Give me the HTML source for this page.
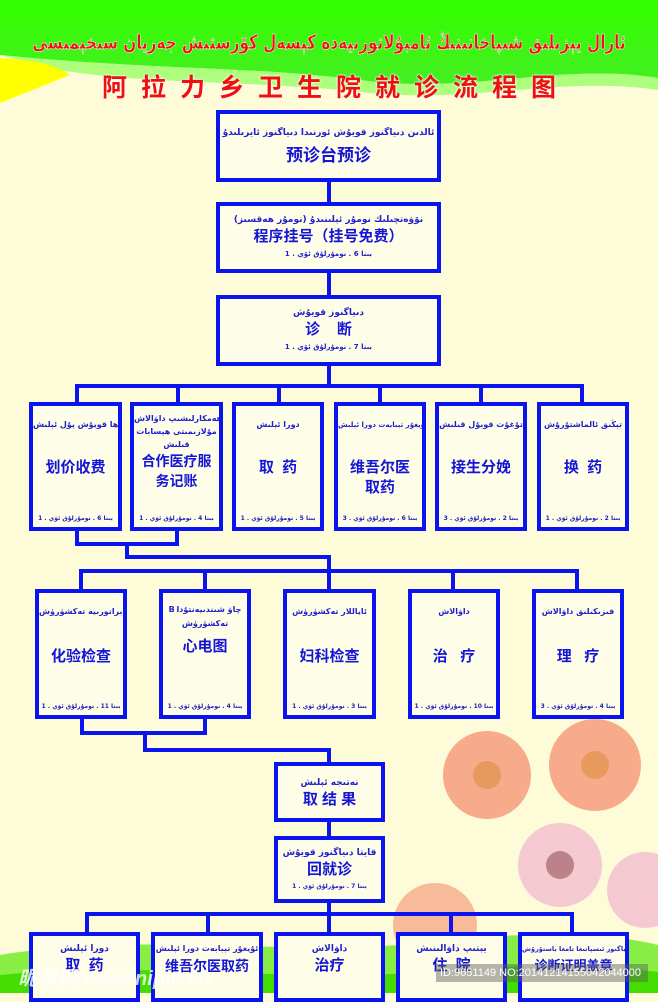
<!DOCTYPE html>
<html><head><meta charset="utf-8"><style>
*{margin:0;padding:0;box-sizing:border-box}
body{width:658px;height:993px;position:relative;overflow:hidden;background:#fdfbd8;font-family:"Liberation Sans","Noto Sans CJK SC",sans-serif}
.b{position:absolute;border:4px solid #0a14f0;background:#fefee8;color:#1a1ae0;text-align:center;overflow:hidden}
.l{position:absolute;background:#0a14f0}
.u{font-family:"DejaVu Sans",sans-serif;font-weight:bold;font-size:9px;line-height:14px;color:#2020d0;white-space:nowrap;letter-spacing:-0.5px}
.c{font-weight:bold;font-size:15px;line-height:20px;color:#1515d8}
.s{font-family:"DejaVu Sans",sans-serif;font-size:6px;font-weight:bold;color:#2020c0;position:absolute;bottom:5px;left:0;right:0;white-space:nowrap;letter-spacing:-0.3px}
</style></head><body>
<svg width="658" height="993" style="position:absolute;left:0;top:0">
<defs><linearGradient id="g" x1="0" y1="0" x2="0" y2="1"><stop offset="0" stop-color="#33ff00"/><stop offset="1" stop-color="#44ee22"/></linearGradient></defs>
<rect width="658" height="993" fill="#fdfbd8"/>
<path d="M0 0H658V78C560 62 470 95 360 80C250 66 150 70 0 55Z" fill="url(#g)"/>
<path d="M0 55C150 70 250 66 360 80C470 95 560 62 658 78V90C560 75 470 105 360 92C250 80 150 85 60 70Z" fill="#99ff66" opacity=".8"/>
<path d="M0 58C30 60 50 62 70 75C45 85 20 95 0 103Z" fill="#ffff00"/>
<g opacity=".7">
<circle cx="487" cy="775" r="44" fill="#f58a6a"/><circle cx="487" cy="775" r="14" fill="#e0702a"/>
<circle cx="595" cy="765" r="46" fill="#f58a6a"/><circle cx="595" cy="765" r="14" fill="#e0702a"/>
<circle cx="560" cy="865" r="42" fill="#f2b4d0"/><circle cx="560" cy="865" r="14" fill="#a0506a"/>
<circle cx="645" cy="890" r="38" fill="#f2b4d0"/>
<circle cx="435" cy="925" r="42" fill="#f5a080"/>
</g>
<path d="M0 955C150 930 300 960 450 940C550 930 620 935 658 945V993H0Z" fill="#88ee44"/>
<path d="M0 975C150 960 300 985 450 970C550 962 620 968 658 972V993H0Z" fill="#44dd00"/>
</svg>
<div style="position:absolute;top:30px;left:329px;white-space:nowrap;font-family:'DejaVu Sans',sans-serif;font-weight:bold;font-size:20px;color:#f01010;-webkit-text-stroke:0.5px #fff;direction:rtl;transform:translateX(-50%) scaleX(0.76)">ئارال يېزىلىق شىپاخانىنىڭ ئامبۇلاتورىيەدە كېسەل كۆرستىش جەريان سىخېمىسى</div>
<div style="position:absolute;top:68px;left:0;width:658px;text-align:center;font-weight:bold;font-size:25px;letter-spacing:14px;padding-left:14px;color:#f01010;text-shadow:0 0 2px #fff,0 0 2px #fff">阿拉力乡卫生院就诊流程图</div>

<div class="l" style="left:327px;top:180px;width:4px;height:24px"></div>
<div class="l" style="left:327px;top:272px;width:4px;height:24px"></div>
<div class="l" style="left:327px;top:364px;width:4px;height:22px"></div>
<div class="l" style="left:75px;top:384px;width:509px;height:4px"></div>
<div class="l" style="left:75px;top:384px;width:4px;height:20px"></div>
<div class="l" style="left:176px;top:384px;width:4px;height:20px"></div>
<div class="l" style="left:277px;top:384px;width:4px;height:20px"></div>
<div class="l" style="left:378px;top:384px;width:4px;height:20px"></div>
<div class="l" style="left:479px;top:384px;width:4px;height:20px"></div>
<div class="l" style="left:580px;top:384px;width:4px;height:20px"></div>
<div class="l" style="left:75px;top:529px;width:4px;height:16px"></div>
<div class="l" style="left:175px;top:529px;width:4px;height:16px"></div>
<div class="l" style="left:75px;top:542px;width:104px;height:4px"></div>
<div class="l" style="left:125px;top:542px;width:4px;height:16px"></div>
<div class="l" style="left:125px;top:555px;width:206px;height:4px"></div>
<div class="l" style="left:327px;top:555px;width:4px;height:16px"></div>
<div class="l" style="left:79px;top:569px;width:500px;height:4px"></div>
<div class="l" style="left:79px;top:569px;width:4px;height:22px"></div>
<div class="l" style="left:203px;top:569px;width:4px;height:22px"></div>
<div class="l" style="left:327px;top:569px;width:4px;height:22px"></div>
<div class="l" style="left:451px;top:569px;width:4px;height:22px"></div>
<div class="l" style="left:575px;top:569px;width:4px;height:22px"></div>
<div class="l" style="left:80px;top:716px;width:4px;height:18px"></div>
<div class="l" style="left:203px;top:716px;width:4px;height:18px"></div>
<div class="l" style="left:80px;top:731px;width:127px;height:4px"></div>
<div class="l" style="left:143px;top:731px;width:4px;height:20px"></div>
<div class="l" style="left:143px;top:748px;width:188px;height:4px"></div>
<div class="l" style="left:327px;top:748px;width:4px;height:16px"></div>
<div class="l" style="left:327px;top:820px;width:4px;height:18px"></div>
<div class="l" style="left:327px;top:901px;width:4px;height:14px"></div>
<div class="l" style="left:85px;top:912px;width:489px;height:4px"></div>
<div class="l" style="left:85px;top:912px;width:4px;height:22px"></div>
<div class="l" style="left:206px;top:912px;width:4px;height:22px"></div>
<div class="l" style="left:327px;top:912px;width:4px;height:22px"></div>
<div class="l" style="left:449px;top:912px;width:4px;height:22px"></div>
<div class="l" style="left:570px;top:912px;width:4px;height:22px"></div>

<div class="b" style="left:216px;top:110px;width:225px;height:72px;padding-top:12px"><div class="u">ئالدىن دىياگنوز قويۇش ئورنىدا دىياگنوز ئايرىلىدۇ</div><div class="c" style="font-size:17px;margin-top:6px">预诊台预诊</div></div>
<div class="b" style="left:216px;top:202px;width:225px;height:71px;padding-top:7px"><div class="u">نۆۋەتچىلىك نومۇر ئېلىنىدۇ (نومۇر ھەقسىز)</div><div class="c">程序挂号（挂号免费）</div><div class="u" style="font-size:7px">1 . بىنا 6 . نومۇرلۇق ئۆي</div></div>
<div class="b" style="left:216px;top:295px;width:225px;height:71px;padding-top:7px"><div class="u">دىياگنوز قويۇش</div><div class="c">诊&nbsp;&nbsp;&nbsp;&nbsp;断</div><div class="u" style="font-size:7px">1 . بىنا 7 . نومۇرلۇق ئۆي</div></div>

<div class="b" style="left:29px;top:402px;width:93px;height:129px;padding-top:12px"><div class="u" style="font-size:8px">باھا قويۇش پۇل ئېلىش</div><div class="c" style="margin-top:26px">划价收费</div><div class="s">1 . بىنا 6 . نومۇرلۇق ئۆي</div></div>
<div class="b" style="left:130px;top:402px;width:93px;height:129px;padding-top:6px"><div class="u" style="font-size:8px;line-height:13px">ھەمكارلىشىپ داۋالاش<br>مۇلازىمىتى ھېسابات<br>قىلىش</div><div class="c" style="font-size:14px;line-height:20px">合作医疗服<br>务记账</div><div class="s">1 . بىنا 4 . نومۇرلۇق ئۆي</div></div>
<div class="b" style="left:232px;top:402px;width:92px;height:129px;padding-top:12px"><div class="u" style="font-size:8px">دورا ئېلىش</div><div class="c" style="margin-top:26px">取&nbsp;&nbsp;药</div><div class="s">1 . بىنا 5 . نومۇرلۇق ئۆي</div></div>
<div class="b" style="left:334px;top:402px;width:92px;height:129px;padding-top:12px"><div class="u" style="font-size:7px">ئۇيغۇر تېبابەت دورا ئېلىش</div><div class="c" style="margin-top:26px">维吾尔医<br>取药</div><div class="s">3 . بىنا 6 . نومۇرلۇق ئۆي</div></div>
<div class="b" style="left:435px;top:402px;width:92px;height:129px;padding-top:12px"><div class="u" style="font-size:8px">تۇغۇت قوبۇل قىلىش</div><div class="c" style="margin-top:26px">接生分娩</div><div class="s">3 . بىنا 2 . نومۇرلۇق ئۆي</div></div>
<div class="b" style="left:537px;top:402px;width:92px;height:129px;padding-top:12px"><div class="u" style="font-size:8px">تېڭىق ئالماشتۇرۇش</div><div class="c" style="margin-top:26px">换&nbsp;&nbsp;药</div><div class="s">1 . بىنا 2 . نومۇرلۇق ئۆي</div></div>

<div class="b" style="left:35px;top:589px;width:92px;height:130px;padding-top:12px"><div class="u" style="font-size:8px">لابراتورىيە تەكشۈرۈش</div><div class="c" style="margin-top:28px">化验检查</div><div class="s">1 . بىنا 11 . نومۇرلۇق ئۆي</div></div>
<div class="b" style="left:159px;top:589px;width:92px;height:130px;padding-top:10px"><div class="u" style="font-size:8px">B چاۋ شىندىيەنتۇدا<br>تەكشۈرۈش</div><div class="c" style="margin-top:6px">心电图</div><div class="s">1 . بىنا 4 . نومۇرلۇق ئۆي</div></div>
<div class="b" style="left:283px;top:589px;width:93px;height:130px;padding-top:12px"><div class="u" style="font-size:8px">ئاياللار تەكشۈرۈش</div><div class="c" style="margin-top:28px">妇科检查</div><div class="s">1 . بىنا 3 . نومۇرلۇق ئۆي</div></div>
<div class="b" style="left:408px;top:589px;width:92px;height:130px;padding-top:12px"><div class="u" style="font-size:8px">داۋالاش</div><div class="c" style="margin-top:28px">治&nbsp;&nbsp;&nbsp;疗</div><div class="s">1 . بىنا 10 . نومۇرلۇق ئۆي</div></div>
<div class="b" style="left:532px;top:589px;width:92px;height:130px;padding-top:12px"><div class="u" style="font-size:8px">فىزىكىلىق داۋالاش</div><div class="c" style="margin-top:28px">理&nbsp;&nbsp;&nbsp;疗</div><div class="s">3 . بىنا 4 . نومۇرلۇق ئۆي</div></div>

<div class="b" style="left:274px;top:762px;width:111px;height:60px;padding-top:10px"><div class="u">نەتىجە ئېلىش</div><div class="c">取 结 果</div></div>
<div class="b" style="left:274px;top:836px;width:111px;height:67px;padding-top:6px"><div class="u">قايتا دىياگنوز قويۇش</div><div class="c">回就诊</div><div class="u" style="font-size:6px">1 . بىنا 7 . نومۇرلۇق ئۆي</div></div>

<div class="b" style="left:29px;top:932px;width:111px;height:70px;padding-top:6px"><div class="u">دورا ئېلىش</div><div class="c">取&nbsp;&nbsp;药</div></div>
<div class="b" style="left:151px;top:932px;width:112px;height:70px;padding-top:6px"><div class="u" style="font-size:8px">ئۇيغۇر تېبابەت دورا ئېلىش</div><div class="c" style="font-size:14px">维吾尔医取药</div></div>
<div class="b" style="left:274px;top:932px;width:111px;height:70px;padding-top:6px"><div class="u">داۋالاش</div><div class="c">治疗</div></div>
<div class="b" style="left:396px;top:932px;width:111px;height:70px;padding-top:6px"><div class="u">يېتىپ داۋالىنىش</div><div class="c">住&nbsp;&nbsp;院</div></div>
<div class="b" style="left:518px;top:932px;width:111px;height:70px;padding-top:6px"><div class="u" style="font-size:6.5px">دىياگنوز ئىسپاتىغا تامغا باستۇرۇش</div><div class="c" style="font-size:13px">诊断证明盖章</div></div>

<div style="position:absolute;left:18px;top:962px;font-weight:bold;font-size:20px;color:#fff;opacity:.8;font-style:italic;white-space:nowrap">昵享网 www.nipic.cn</div>
<div style="position:absolute;left:436px;top:964px;width:212px;height:18px;background:rgba(90,90,90,.45);color:#fff;font-size:11px;line-height:18px;padding-left:4px;white-space:nowrap;overflow:hidden">ID:9651149 NO:20141214155042044000</div>
</body></html>
